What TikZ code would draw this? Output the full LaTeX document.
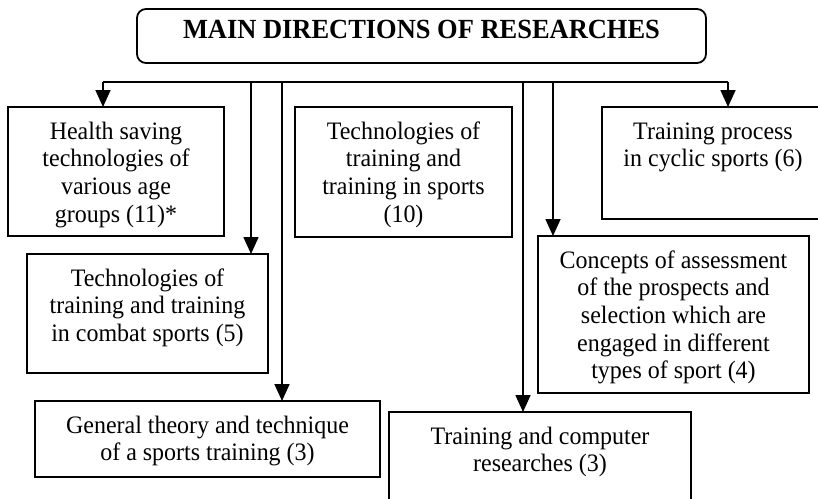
\documentclass[tikz,border=0pt]{standalone}
\usepackage{fontspec}
\setmainfont{Liberation Serif}[FakeStretch=0.955]
\usetikzlibrary{arrows.meta}
\begin{document}
\begin{tikzpicture}[x=1pt,y=-1pt,
  box/.style={draw, line width=1.8pt, anchor=north west, inner sep=0pt, outer sep=0pt},
  txt/.style={anchor=north, align=center, inner sep=0pt, font=\fontsize{25.1}{27.6}\selectfont},
  feed/.style={line width=1.7pt, -{Triangle[length=17pt,width=15pt]}},
  bus/.style={line width=1.7pt}]
\useasboundingbox (0,0) rectangle (818,498);
\clip (0,0) rectangle (818,498);

% heading
\node[box, rounded corners=9pt, minimum width=569pt, minimum height=54pt] (head) at (137,9) {};
\node[anchor=base, inner sep=0pt, font=\bfseries\fontsize{27.7}{30}\selectfont] (headtxt) at (421.5,38) {MAIN DIRECTIONS OF RESEARCHES};

% research directions
\node[box, minimum width=216pt, minimum height=129pt] (health) at (8,107) {};
\node[txt] (healthtxt) at ([yshift=-12.7pt]health.north) {\strut Health saving\\technologies of\\various age\\groups (11)*};

\node[box, minimum width=241pt, minimum height=119pt] (combat) at (27,254) {};
\node[txt] (combattxt) at ([yshift=-12.7pt]combat.north) {\strut Technologies of\\training and training\\in combat sports (5)};

\node[box, minimum width=345pt, minimum height=76pt] (general) at (35,401) {};
\node[txt] (generaltxt) at ([yshift=-12.7pt]general.north) {\strut General theory and technique\\of a sports training (3)};

\node[box, minimum width=217pt, minimum height=130pt] (sports) at (295,107) {};
\node[txt] (sportstxt) at ([yshift=-12.7pt]sports.north) {\strut Technologies of\\training and\\training in sports\\(10)};

\node[box, minimum width=302pt, minimum height=110pt] (computer) at (389,412) {};
\node[txt] (computertxt) at ([yshift=-12.7pt]computer.north) {\strut Training and computer\\researches (3)};

\node[box, minimum width=271pt, minimum height=157pt] (select) at (538,236) {};
\node[txt] (selecttxt) at ([yshift=-12.7pt]select.north) {\strut Concepts of assessment\\of the prospects and\\selection which are\\engaged in different\\types of sport (4)};

\node[box, minimum width=222pt, minimum height=112pt] (cyclic) at (602,107) {};
\node[txt] (cyclictxt) at ([yshift=-12.7pt]cyclic.north) {\strut Training process\\in cyclic sports (6)};

% distribution bus and feeders
\coordinate (j1) at (103,82);
\coordinate (j2) at (251,82);
\coordinate (j3) at (282,82);
\coordinate (j4) at (523,82);
\coordinate (j5) at (553,82);
\coordinate (j6) at (728,82);
\draw[bus] (j1) -- (j6);
\draw[feed] (j1) -- (j1 |- health.north);
\draw[feed] (j2) -- (j2 |- combat.north);
\draw[feed] (j3) -- (j3 |- general.north);
\draw[feed] (j4) -- (j4 |- computer.north);
\draw[feed] (j5) -- (j5 |- select.north);
\draw[feed] (j6) -- (j6 |- cyclic.north);
\end{tikzpicture}
\end{document}
